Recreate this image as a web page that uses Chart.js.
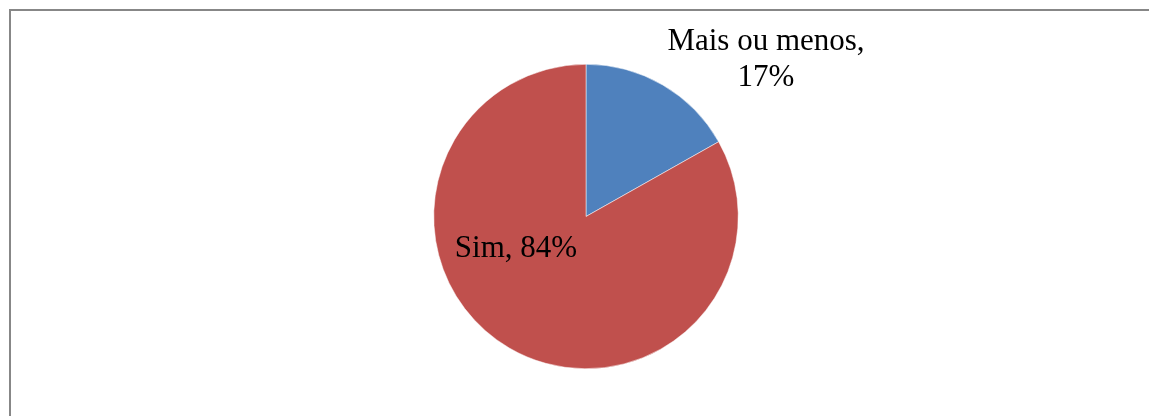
<!DOCTYPE html>
<html><head><meta charset="utf-8">
<script src="https://cdn.jsdelivr.net/npm/chart.js@4/dist/chart.umd.min.js"></script>
<style>html,body{margin:0;padding:0;background:#fff;overflow:hidden}#c{display:block}</style>
</head><body>
<div style="width:1149px;height:416px;position:relative"><canvas id="c" width="1149" height="416"></canvas></div>
<script>
const categories = ["Mais ou menos", "Sim"];
const values = [17, 84];
const colors = ["#4F81BD", "#C0504D"];

const labelPlugin = {
  id: 'sliceLabels',
  beforeDraw(chart) {
    const ctx = chart.ctx;
    ctx.save();
    ctx.fillStyle = '#878787';
    ctx.fillRect(9, 9, chart.width, 2);
    ctx.fillRect(9, 9, 2, chart.height);
    ctx.restore();
  },
  afterDraw(chart) {
    const ctx = chart.ctx;
    const meta = chart.getDatasetMeta(0);
    const arc = meta.data[0];
    const cx = arc.x, cy = arc.y;
    ctx.save();
    ctx.font = '31px "Liberation Serif", "Times New Roman", serif';
    ctx.fillStyle = '#000';
    ctx.textAlign = 'center';
    ctx.textBaseline = 'alphabetic';
    // slice 0 label (outside, upper right)
    ctx.fillText(categories[0] + ',', cx + 180, cy - 167);
    ctx.fillText(values[0] + '%', cx + 180, cy - 131);
    // slice 1 label (inside, left)
    ctx.fillText(categories[1] + ', ' + values[1] + '%', cx - 70, cy + 40);
    ctx.restore();
  }
};

new Chart(document.getElementById('c'), {
  type: 'pie',
  data: {
    labels: categories,
    datasets: [{ data: values, backgroundColor: colors, borderColor: '#ffffff', borderWidth: 0.5 }]
  },
  options: {
    responsive: false,
    animation: false,
    layout: { padding: { top: 64, bottom: 47, left: 100, right: 77 } },
    plugins: { legend: { display: false }, tooltip: { enabled: false } }
  },
  plugins: [labelPlugin]
});
</script>
</body></html>
